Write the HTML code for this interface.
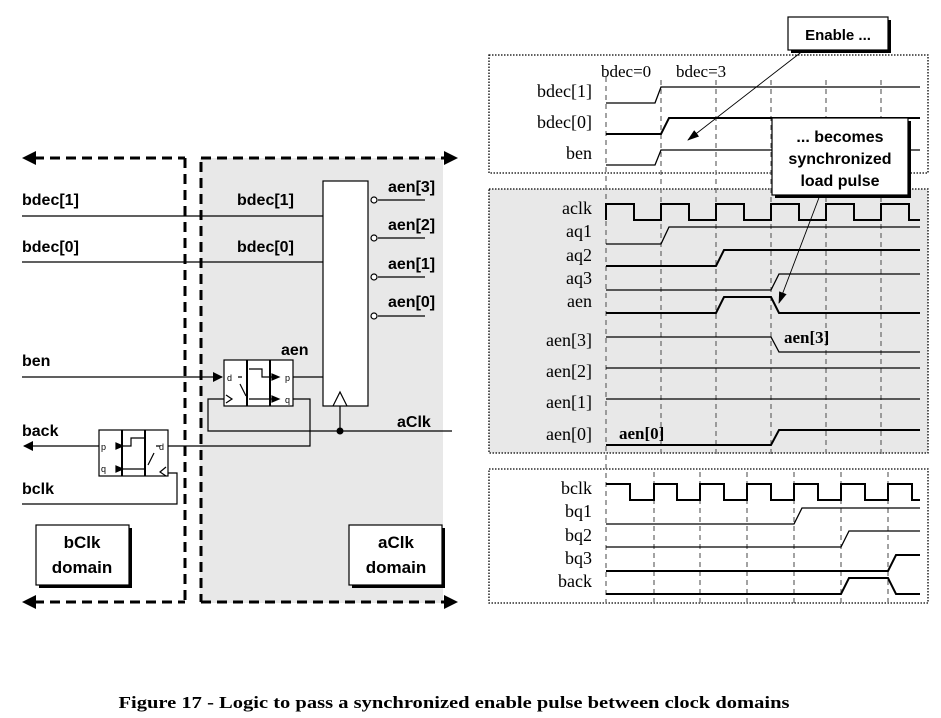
<!DOCTYPE html>
<html><head><style>
html,body{margin:0;padding:0;background:#fff;}
svg{display:block;}
.s{font-family:"Liberation Sans",sans-serif;font-weight:bold;}
.t{font-family:"Liberation Serif",serif;}
</style></head><body>
<svg width="941" height="718" viewBox="0 0 941 718" xmlns="http://www.w3.org/2000/svg">
<defs>
<marker id="ah" markerWidth="10" markerHeight="10" refX="9" refY="5" orient="auto" markerUnits="userSpaceOnUse"><path d="M0,0 L10,5 L0,10 z" fill="#000"/></marker>
<marker id="sa" markerWidth="12" markerHeight="8" refX="11" refY="4" orient="auto" markerUnits="userSpaceOnUse"><path d="M0,0 L12,4 L0,8 z" fill="#000"/></marker>
</defs>
<!-- LEFT schematic -->
<rect x="200" y="158" width="243" height="445" fill="#e8e8e8"/>
<g stroke="#000" stroke-width="3" stroke-dasharray="10,6" fill="none">
<line x1="34" y1="158" x2="185" y2="158"/>
<line x1="201" y1="158" x2="446" y2="158"/>
<line x1="34" y1="602" x2="185" y2="602"/>
<line x1="201" y1="602" x2="446" y2="602"/>
<line x1="185" y1="158" x2="185" y2="602"/>
<line x1="201" y1="162" x2="201" y2="602"/>
</g>
<path d="M22,158 L36,151 L36,165 z M458,158 L444,151 L444,165 z M22,602 L36,595 L36,609 z M458,602 L444,595 L444,609 z" fill="#000"/>
<g class="s" font-size="16">
<text x="22" y="205">bdec[1]</text>
<text x="22" y="252">bdec[0]</text>
<text x="237" y="205">bdec[1]</text>
<text x="237" y="252">bdec[0]</text>
<text x="388" y="192">aen[3]</text>
<text x="388" y="230">aen[2]</text>
<text x="388" y="269">aen[1]</text>
<text x="388" y="307">aen[0]</text>
<text x="22" y="366">ben</text>
<text x="281" y="355">aen</text>
<text x="326" y="385" font-size="18">ld</text>
<text x="397" y="427">aClk</text>
<text x="22" y="436">back</text>
<text x="22" y="494">bclk</text>
</g>
<g stroke="#000" stroke-width="1.2" fill="none">
<line x1="22" y1="216" x2="323" y2="216"/>
<line x1="22" y1="262" x2="323" y2="262"/>
<rect x="323" y="181" width="45" height="225" fill="#fff"/>
<path d="M333,406 L340,392 L347,406"/>
<line x1="378" y1="200" x2="425" y2="200"/>
<line x1="378" y1="238" x2="425" y2="238"/>
<line x1="378" y1="277" x2="425" y2="277"/>
<line x1="378" y1="316" x2="425" y2="316"/>
<circle cx="374" cy="200" r="3" fill="#fff"/>
<circle cx="374" cy="238" r="3" fill="#fff"/>
<circle cx="374" cy="277" r="3" fill="#fff"/>
<circle cx="374" cy="316" r="3" fill="#fff"/>
<line x1="22" y1="377" x2="222" y2="377" marker-end="url(#ah)"/>
<rect x="224" y="360" width="69" height="46" fill="#fff"/>
<line x1="247" y1="360" x2="247" y2="406" stroke-width="2"/>
<line x1="270" y1="360" x2="270" y2="406" stroke-width="2"/>
<path d="M249,369 L262,369 L262,377 L276,377 M249,399 L276,399 M238,377 L242,377 M240,384 L246,396 M226,395 L232,399 L226,403"/>
<path d="M272,374 L279,377 L272,380 z M272,396 L279,399 L272,402 z" fill="#000"/>
<line x1="293" y1="377" x2="323" y2="377"/>
<line x1="340" y1="406" x2="340" y2="431"/>
<path d="M452,431 L208,431 L208,399 L224,399"/>
<path d="M293,399 L310,399 L310,446 L168,446"/>
<rect x="99" y="430" width="69" height="46" fill="#fff"/>
<line x1="122" y1="430" x2="122" y2="476" stroke-width="2"/>
<line x1="145" y1="430" x2="145" y2="476" stroke-width="2"/>
<path d="M123,469 L145,469 M123,446 L131,446 L131,438 L145,438 M156,446 L160,446 M154,453 L148,465 M166,467 L160,472 L166,476"/>
<path d="M116,443 L123,446 L116,449 z M116,466 L123,469 L116,472 z" fill="#000"/>
<line x1="99" y1="446" x2="24" y2="446" marker-end="url(#ah)"/>
<path d="M22,504 L177,504 L177,473 L168,473"/>
</g>
<circle cx="340" cy="431" r="3.5" fill="#000"/>
<g font-family="Liberation Sans,sans-serif" font-size="9">
<text x="227" y="381">d</text><text x="285" y="381">p</text><text x="285" y="403">q</text>
<text x="101" y="450">p</text><text x="101" y="472">q</text><text x="159" y="450">d</text>
</g>
<rect x="39" y="528" width="93" height="60" fill="#000"/>
<rect x="36" y="525" width="93" height="60" fill="#fff" stroke="#000" stroke-width="1.2"/>
<rect x="352" y="528" width="93" height="60" fill="#000"/>
<rect x="349" y="525" width="93" height="60" fill="#fff" stroke="#000" stroke-width="1.2"/>
<g class="s" font-size="17" text-anchor="middle">
<text x="82" y="548">bClk</text><text x="82" y="573">domain</text>
<text x="396" y="548">aClk</text><text x="396" y="573">domain</text>
</g>
<!-- RIGHT timing -->
<rect x="489" y="189" width="439" height="264" fill="#e8e8e8"/>
<g fill="none" stroke="#000" stroke-width="1.3" stroke-dasharray="1.5,1.5">
<rect x="489" y="55" width="439" height="118"/>
<rect x="489" y="189" width="439" height="264"/>
<rect x="489" y="469" width="439" height="134"/>
</g>
<g stroke="#666" stroke-width="1.2" stroke-dasharray="5,4">
<line x1="606" y1="77" x2="606" y2="603"/>
<line x1="661" y1="80" x2="661" y2="455"/>
<line x1="716" y1="80" x2="716" y2="455"/>
<line x1="771" y1="80" x2="771" y2="455"/>
<line x1="826" y1="80" x2="826" y2="455"/>
<line x1="881" y1="80" x2="881" y2="455"/>
<line x1="654" y1="472" x2="654" y2="603"/>
<line x1="700" y1="472" x2="700" y2="603"/>
<line x1="747" y1="472" x2="747" y2="603"/>
<line x1="794" y1="472" x2="794" y2="603"/>
<line x1="841" y1="472" x2="841" y2="603"/>
<line x1="888" y1="472" x2="888" y2="603"/>
</g>
<g class="t" font-size="18" text-anchor="end">
<text x="592" y="97">bdec[1]</text>
<text x="592" y="128">bdec[0]</text>
<text x="592" y="159">ben</text>
<text x="592" y="214">aclk</text>
<text x="592" y="237">aq1</text>
<text x="592" y="261">aq2</text>
<text x="592" y="284">aq3</text>
<text x="592" y="307">aen</text>
<text x="592" y="346">aen[3]</text>
<text x="592" y="377">aen[2]</text>
<text x="592" y="408">aen[1]</text>
<text x="592" y="440">aen[0]</text>
<text x="592" y="494">bclk</text>
<text x="592" y="517">bq1</text>
<text x="592" y="541">bq2</text>
<text x="592" y="564">bq3</text>
<text x="592" y="587">back</text>
</g>
<g class="t" font-size="17">
<text x="601" y="77">bdec=0</text><text x="676" y="77">bdec=3</text>
</g>
<g class="t" font-size="17" font-weight="bold">
<text x="784" y="343">aen[3]</text><text x="619" y="439">aen[0]</text>
</g>
<g fill="none" stroke="#000" stroke-width="1.3">
<path d="M606,103 L655,103 L661,87 L920,87"/>
<path d="M606,134 L661,134 L669,118 L920,118" stroke-width="2"/>
<path d="M606,165 L655,165 L661,150 L920,150"/>
<path d="M606,220 L606,204 L634,204 L634,220 L661,220 L661,204 L689,204 L689,220 L716,220 L716,204 L744,204 L744,220 L771,220 L771,204 L799,204 L799,220 L826,220 L826,204 L854,204 L854,220 L881,220 L881,204 L909,204 L909,220 L920,220" stroke-width="2"/>
<path d="M606,244 L661,244 L669,227 L920,227"/>
<path d="M606,266 L716,266 L724,250 L920,250" stroke-width="2"/>
<path d="M606,290 L771,290 L779,274 L920,274"/>
<path d="M606,313 L716,313 L724,297 L771,297 L779,313 L920,313" stroke-width="2"/>
<path d="M606,337 L771,337 L779,352 L920,352"/>
<path d="M606,368 L920,368"/>
<path d="M606,399 L920,399"/>
<path d="M606,445 L771,445 L779,430 L920,430" stroke-width="2"/>
<path d="M606,484 L630,484 L630,500 L654,500 L654,484 L677,484 L677,500 L700,500 L700,484 L724,484 L724,500 L747,500 L747,484 L771,484 L771,500 L794,500 L794,484 L818,484 L818,500 L841,500 L841,484 L865,484 L865,500 L888,500 L888,484 L912,484 L912,500 L920,500" stroke-width="2"/>
<path d="M606,524 L794,524 L802,508 L920,508"/>
<path d="M606,547 L841,547 L849,531 L920,531"/>
<path d="M606,571 L888,571 L896,555 L920,555" stroke-width="2"/>
<path d="M606,594 L841,594 L849,578 L888,578 L896,594 L920,594" stroke-width="2"/>
</g>
<rect x="791" y="20" width="100" height="33" fill="#000"/>
<rect x="788" y="17" width="100" height="33" fill="#fff" stroke="#000" stroke-width="1.2"/>
<text x="838" y="40" class="s" font-size="15" text-anchor="middle">Enable ...</text>
<line x1="804" y1="50" x2="688" y2="140" stroke="#000" stroke-width="0.9" marker-end="url(#sa)"/>
<rect x="775" y="121" width="136" height="77" fill="#000"/>
<rect x="772" y="118" width="136" height="77" fill="#fff" stroke="#000" stroke-width="1.2"/>
<g class="s" font-size="16" text-anchor="middle">
<text x="840" y="142">... becomes</text><text x="840" y="164">synchronized</text><text x="840" y="186">load pulse</text>
</g>
<line x1="820" y1="195" x2="779" y2="303" stroke="#000" stroke-width="0.9" marker-end="url(#sa)"/>
<text x="454" y="708" font-family="Liberation Serif,serif" font-weight="bold" font-size="17" text-anchor="middle" textLength="671" lengthAdjust="spacingAndGlyphs">Figure 17 - Logic to pass a synchronized enable pulse between clock domains</text>
</svg>
</body></html>
